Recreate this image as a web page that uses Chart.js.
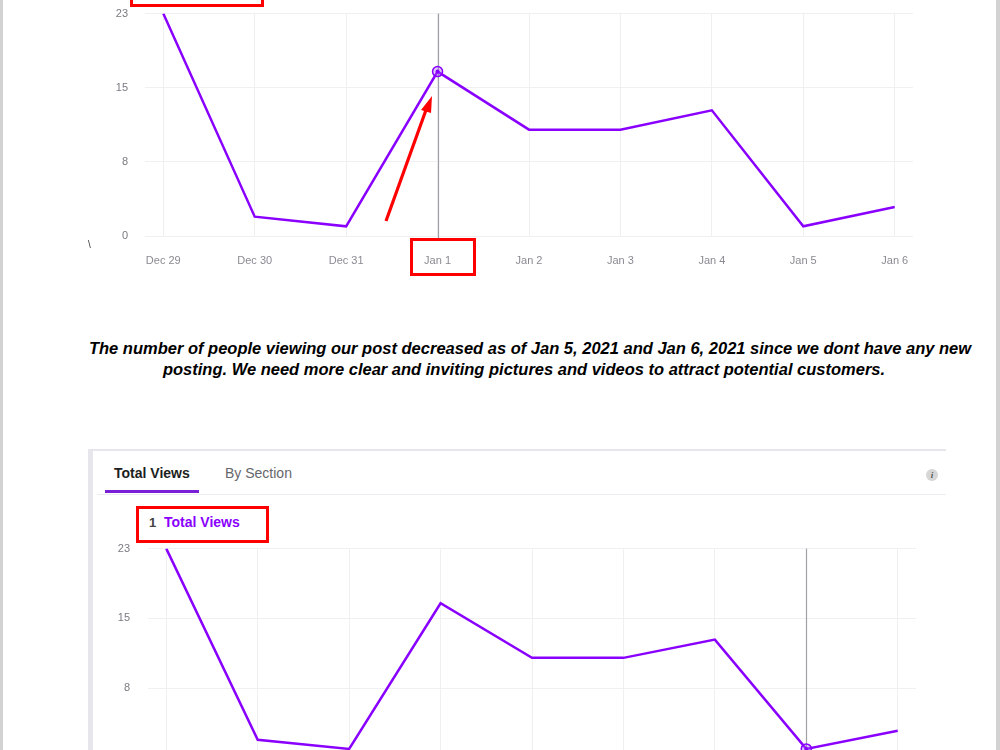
<!DOCTYPE html>
<html>
<head>
<meta charset="utf-8">
<script src="https://cdn.jsdelivr.net/npm/chart.js@4.4.0/dist/chart.umd.min.js"></script>
<style>
  html, body { margin: 0; padding: 0; background: #fff; overflow: hidden; }
  body { width: 1000px; height: 750px; position: relative; font-family: "Liberation Sans", Arial, sans-serif; }
  .edge { position: absolute; top: 0; width: 3px; height: 750px; background: #d2d2d2; }
  canvas { position: absolute; }
  .redbox { position: absolute; border: 3px solid #f00; box-sizing: border-box; }
  .note {
    position: absolute; left: 80px; top: 338px; width: 900px; text-align: center;
    font: italic bold 16.5px/21px "Liberation Sans", Arial, sans-serif; color: #000;
  }
  .card { position: absolute; left: 88px; top: 449px; width: 858px; height: 320px;
    border-top: 2px solid #e6e6ec; border-left: 5px solid #e6e6ec; box-sizing: border-box; }
  .tabline { position: absolute; left: 97px; top: 494px; width: 849px; height: 1px; background: #ebebf0; }
  .tab { position: absolute; top: 465px; font-size: 14px; }
  .underline { position: absolute; left: 105px; top: 490px; width: 94px; height: 3px; background: #7a1fd6; }
  .info { position: absolute; left: 926px; top: 469px; width: 12px; height: 12px; border-radius: 6px;
    background: #d6d6d6; color: #555; font: italic bold 9px/12px "Liberation Serif", serif; text-align: center; }
</style>
</head>
<body>
<div class="edge" style="left:0"></div>
<div class="edge" style="left:996px;width:4px"></div>

<canvas id="topChart" width="840" height="290" style="left:90px;top:-10px"></canvas>
<div class="redbox" style="left:130px;top:-30px;width:134px;height:37px"></div>
<div class="redbox" style="left:410px;top:238px;width:66px;height:38px"></div>
<svg style="position:absolute;left:0;top:0" width="1000" height="300">
  <line x1="386" y1="221" x2="426" y2="110" stroke="#f00" stroke-width="3.2"/>
  <polygon points="432,96 421,110 431,113" fill="#f00"/>
</svg>
<span style="position:absolute;left:88px;top:239px;font-size:10px;color:#333">\</span>

<div class="note">The number of people viewing our post decreased as of Jan 5, 2021 and Jan 6, 2021 since we dont have any new<br><span style="position:relative;left:-6px">posting. We need more clear and inviting pictures and videos to attract potential customers.</span></div>

<div class="card"></div>
<div class="tab" style="left:114px;font-weight:bold;color:#1c1e21">Total Views</div>
<div class="tab" style="left:225px;color:#65676b">By Section</div>
<div class="underline"></div>
<div class="tabline"></div>
<div class="info">i</div>
<div style="position:absolute;left:149px;top:515px;font-size:13px;font-weight:bold;color:#444">1</div>
<div style="position:absolute;left:164px;top:514px;font-size:14px;font-weight:bold;color:#8a00ff">Total Views</div>
<div class="redbox" style="left:136px;top:506px;width:133px;height:37px"></div>

<canvas id="bottomChart" width="840" height="278" style="left:93px;top:524px"></canvas>

<script>
const dates = ["Dec 29", "Dec 30", "Dec 31", "Jan 1", "Jan 2", "Jan 3", "Jan 4", "Jan 5", "Jan 6"];
const views = [23, 2, 1, 17, 11, 11, 13, 1, 3];
const yMax = 23;
const yTickLabels = ["0", "8", "15", "23"];

const purple = "#8a00ff";

// gray hover guide + marker dot at the highlighted day
const hoverLine = {
  id: "hoverLine",
  beforeDatasetsDraw(chart, args, opts) {
    const ctx = chart.ctx;
    const x = Math.round(chart.scales.x.getPixelForValue(opts.index)) + 0.5;
    ctx.save();
    ctx.strokeStyle = "#a0a0a8";
    ctx.lineWidth = 1.2;
    ctx.beginPath();
    ctx.moveTo(x, chart.chartArea.top);
    ctx.lineTo(x, chart.chartArea.bottom + opts.extra);
    ctx.stroke();
    ctx.restore();
  },
  afterDatasetsDraw(chart, args, opts) {
    const ctx = chart.ctx;
    const x = chart.scales.x.getPixelForValue(opts.index);
    const y = chart.scales.y.getPixelForValue(views[opts.index]);
    ctx.save();
    ctx.fillStyle = purple;
    ctx.beginPath();
    ctx.arc(x, y, 2, 0, Math.PI * 2);
    ctx.fill();
    ctx.restore();
  }
};

function makeChart(id, hoverIndex, labelPad, extra) {
  const ctx = document.getElementById(id).getContext("2d");
  return new Chart(ctx, {
    type: "line",
    data: {
      datasets: [{
        data: views.map((v, i) => ({ x: i, y: v })),
        borderColor: purple,
        borderWidth: 2.5,
        tension: 0,
        pointRadius: views.map((v, i) => (i === hoverIndex ? 5 : 0)),
        pointBackgroundColor: "rgba(170, 100, 255, 0.35)",
        pointBorderColor: purple,
        pointBorderWidth: 1.5,
      }],
    },
    options: {
      responsive: false,
      animation: false,
      events: [],
      layout: { padding: { top: 0, right: 17, left: 0, bottom: 0 } },
      plugins: {
        legend: { display: false },
        tooltip: { enabled: false },
        hoverLine: { index: hoverIndex, extra: extra },
      },
      scales: {
        x: {
          type: "linear",
          min: -0.2,
          max: 8.2,
          afterBuildTicks: (s) => { s.ticks = dates.map((d, i) => ({ value: i })); },
          afterFit: (s) => { s.height = 44; },
          border: { display: false },
          grid: { color: "#f0f0f3", drawTicks: false },
          ticks: {
            padding: 18,
            color: "#8a8a92",
            font: { size: 11, family: "Liberation Sans" },
            maxRotation: 0,
            callback: (v) => dates[v],
          },
        },
        y: {
          min: 0,
          max: yMax,
          afterBuildTicks: (s) => { s.ticks = yTickLabels.map((t, i) => ({ value: (i * yMax) / 3 })); },
          afterFit: (s) => { s.width = 55; },
          border: { display: false },
          grid: { color: "#f0f0f3", drawTicks: false },
          ticks: {
            padding: labelPad,
            color: "#7a7a82",
            font: { size: 11, family: "Liberation Sans" },
            callback: (v, i) => yTickLabels[i],
          },
        },
      },
    },
    plugins: [hoverLine],
  });
}

makeChart("topChart", 3, 17, 3);
makeChart("bottomChart", 7, 18, 0);
</script>
</body>
</html>
